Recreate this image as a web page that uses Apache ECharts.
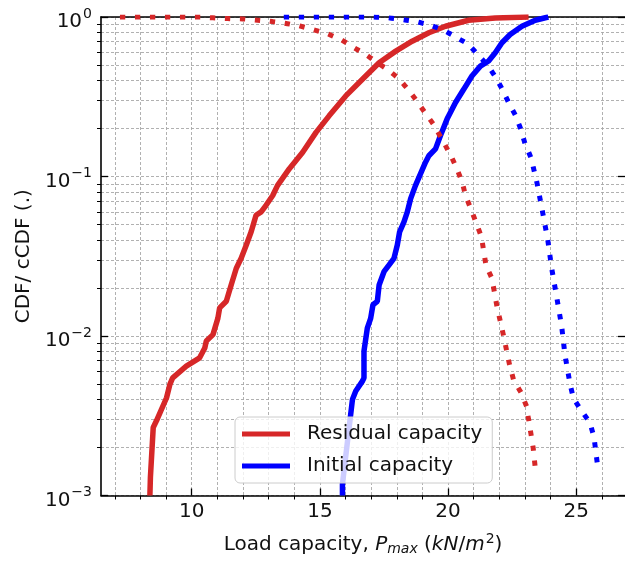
<!DOCTYPE html>
<html>
<head>
<meta charset="utf-8">
<script src="https://cdn.jsdelivr.net/npm/echarts@6/dist/echarts.min.js"></script>
<style>
  html, body { margin: 0; padding: 0; background: #fff; }
  #chart { width: 625px; height: 561px; }
</style>
</head>
<body>
<div id="chart"></div>
<script>
  // residual capacity, CDF (solid red)
  const resCdfX = [8.37, 8.39, 8.50, 8.63, 9.02, 9.15, 9.26, 9.79, 10.31, 10.51, 10.57, 10.83, 11.02, 11.09, 11.35, 11.54, 11.74, 11.93, 12.13, 12.32, 12.51, 12.71, 12.90, 13.16, 13.35, 13.81, 14.33, 14.85, 15.36, 16.01, 16.66, 17.31, 17.96, 18.60, 19.25, 19.90, 20.80, 21.84, 23.14];
  const resCdfY = [0.001, 0.0013, 0.00267, 0.00295, 0.0041, 0.00497, 0.00547, 0.00647, 0.0073, 0.0084, 0.0093, 0.0102, 0.0129, 0.015, 0.0165, 0.0209, 0.0266, 0.0307, 0.0372, 0.045, 0.0571, 0.060, 0.066, 0.076, 0.088, 0.112, 0.142, 0.189, 0.240, 0.320, 0.407, 0.517, 0.611, 0.705, 0.796, 0.875, 0.954, 0.987, 1.0];

  // initial capacity, CDF (solid blue)
  const initCdfX = [15.88, 15.88, 16.27, 16.40, 16.66, 16.72, 16.72, 16.85, 16.98, 17.07, 17.24, 17.31, 17.50, 17.70, 17.89, 18.02, 18.11, 18.28, 18.41, 18.54, 18.73, 19.12, 19.25, 19.51, 19.70, 19.96, 20.29, 20.61, 20.93, 21.26, 21.58, 21.84, 22.10, 22.42, 22.88, 23.40, 23.91];
  const initCdfY = [0.001, 0.00118, 0.0040, 0.00452, 0.00521, 0.00547, 0.00803, 0.0112, 0.0129, 0.0157, 0.0165, 0.0209, 0.0253, 0.0279, 0.0307, 0.0372, 0.045, 0.0519, 0.060, 0.0726, 0.088, 0.123, 0.135, 0.149, 0.180, 0.229, 0.291, 0.352, 0.427, 0.492, 0.530, 0.597, 0.689, 0.777, 0.875, 0.954, 1.0];

  // residual capacity, cCDF (dotted red)
  const resCcdfX = [7.3, 10.31, 10.89, 11.41, 11.99, 12.58, 13.14, 13.70, 14.26, 14.82, 15.34, 15.86, 16.34, 16.79, 17.24, 17.63, 18.08, 18.41, 18.73, 19.05, 19.38, 19.64, 19.90, 20.16, 20.35, 20.55, 20.68, 20.91, 21.30, 21.48, 21.71, 21.91, 22.16, 22.39, 22.55, 22.81, 23.03, 23.14, 23.32, 23.43];
  const resCcdfY = [1.0, 0.999, 0.987, 0.977, 0.973, 0.954, 0.936, 0.910, 0.875, 0.826, 0.780, 0.716, 0.641, 0.582, 0.517, 0.470, 0.411, 0.356, 0.305, 0.258, 0.218, 0.185, 0.156, 0.130, 0.111, 0.0923, 0.076, 0.0614, 0.0419, 0.0276, 0.0230, 0.0152, 0.0101, 0.00669, 0.00533, 0.00452, 0.00373, 0.00301, 0.00198, 0.00134];

  // initial capacity, cCDF (dotted blue)
  const initCcdfX = [13.69, 16.53, 17.11, 17.70, 18.24, 18.80, 19.32, 19.83, 20.29, 20.80, 21.19, 21.55, 21.84, 22.10, 22.36, 22.62, 22.81, 22.98, 23.20, 23.33, 23.46, 23.68, 23.89, 24.04, 24.24, 24.43, 24.56, 24.76, 24.89, 25.21, 25.53, 25.69, 25.83];
  const initCcdfY = [1.0, 1.0, 1.0, 0.987, 0.963, 0.932, 0.888, 0.826, 0.751, 0.673, 0.574, 0.497, 0.423, 0.356, 0.291, 0.243, 0.203, 0.165, 0.135, 0.113, 0.0923, 0.0605, 0.0399, 0.0266, 0.0174, 0.0115, 0.00758, 0.00497, 0.00406, 0.00339, 0.00286, 0.00233, 0.00154];

  const xMajor = [10, 15, 20, 25];
  const xMinor = [7, 8, 9, 11, 12, 13, 14, 16, 17, 18, 19, 21, 22, 23, 24, 26];
  const yMajor = [0.001, 0.01, 0.1, 1];
  const yMinor = [];
  [0.001, 0.01, 0.1].forEach(d => { for (let k = 2; k <= 9; k++) yMinor.push(+(d * k).toPrecision(3)); });

  const FONT = 'DejaVu Sans';
  const INK = '#111';
  const gridLine = { show: true, lineStyle: { color: '#a8a8a8', width: 0.9, type: [3, 2] } };
  const blackLine = { show: true, lineStyle: { color: '#000', width: 1.6 } };
  const dotted = color => ({ width: 5, color: color, type: [0.3, 14.7], cap: 'square' });
  const zip = (xs, ys) => xs.map((x, i) => [x, ys[i]]);

  const chart = echarts.init(document.getElementById('chart'));
  chart.setOption({
    animation: false,
    grid: { left: 101, top: 17, right: -2, bottom: 63 },
    legend: {
      data: ['Residual capacity', 'Initial capacity'],
      orient: 'vertical', left: 235, top: 417,
      icon: 'rect', itemWidth: 48, itemHeight: 5, itemGap: 12,
      padding: [7, 10, 7, 7],
      backgroundColor: 'rgba(255,255,255,0.8)',
      borderColor: '#cccccc', borderWidth: 1, borderRadius: 5,
      textStyle: { fontFamily: FONT, fontSize: 20, color: INK, padding: [0, 0, 0, 12] }
    },
    xAxis: [
      {
        type: 'value', min: 6.463, max: 26.9, position: 'bottom',
        axisLine: blackLine,
        axisTick: { show: true, inside: true, length: 7, customValues: xMajor, lineStyle: { color: '#000', width: 1.3 } },
        axisLabel: { customValues: xMajor, margin: 6, fontFamily: FONT, fontSize: 20, color: INK },
        splitLine: gridLine,
        name: '{n|Load capacity, }{i|P}{sub|max}{n| (}{i|kN}{n|/}{i|m}{sup|2}{n|)}',
        nameLocation: 'middle', nameGap: 37,
        nameTextStyle: {
          fontFamily: FONT, fontSize: 20, color: INK,
          rich: {
            n: { fontFamily: FONT, fontSize: 20, color: INK },
            i: { fontFamily: FONT, fontSize: 20, fontStyle: 'italic', color: INK },
            sub: { fontFamily: FONT, fontSize: 14, fontStyle: 'italic', color: INK, padding: [9, 0, 0, 0] },
            sup: { fontFamily: FONT, fontSize: 14, color: INK, padding: [0, 0, 10, 1] }
          }
        }
      },
      {
        type: 'value', min: 6.463, max: 26.9, position: 'bottom',
        axisLine: { show: false },
        axisTick: { show: true, inside: false, length: 4, customValues: xMinor, lineStyle: { color: '#000', width: 1 } },
        axisLabel: { show: false },
        splitLine: gridLine
      },
      {
        type: 'value', min: 6.463, max: 26.9, position: 'top',
        axisLine: blackLine,
        axisTick: { show: false }, axisLabel: { show: false }, splitLine: { show: false }
      }
    ],
    yAxis: [
      {
        type: 'log', logBase: 10, min: 0.001, max: 1, position: 'left',
        axisLine: blackLine,
        axisTick: { show: true, inside: true, length: 7, customValues: yMajor, lineStyle: { color: '#000', width: 1.3 } },
        axisLabel: {
          customValues: yMajor, margin: 9,
          formatter: v => '{b|10}{s|' + String(Math.round(Math.log10(v))).replace('-', '\u2212') + '}',
          rich: {
            b: { fontFamily: FONT, fontSize: 20, color: INK, padding: [10, 0, 0, 0] },
            s: { fontFamily: FONT, fontSize: 14, color: INK, padding: [0, 0, 6, 1] }
          }
        },
        splitLine: gridLine,
        name: 'CDF/ cCDF (.)', nameLocation: 'middle', nameGap: 66,
        nameTextStyle: { fontFamily: FONT, fontSize: 20, color: INK }
      },
      {
        type: 'log', logBase: 10, min: 0.001, max: 1, position: 'left',
        axisLine: { show: false },
        axisTick: { show: true, inside: false, length: 4, customValues: yMinor, lineStyle: { color: '#000', width: 1 } },
        axisLabel: { show: false },
        splitLine: gridLine
      },
      {
        type: 'log', logBase: 10, min: 0.001, max: 1, position: 'right',
        axisLine: { show: false },
        axisTick: { show: true, inside: true, length: 7, customValues: yMajor, lineStyle: { color: '#000', width: 1.3 } },
        axisLabel: { show: false }, splitLine: { show: false }
      }
    ],
    series: [
      {
        name: 'Residual capacity', type: 'line', data: zip(resCdfX, resCdfY), showSymbol: false,
        color: '#d62728', lineStyle: { width: 5.5, color: '#d62728' }, z: 3
      },
      {
        name: 'Initial capacity', type: 'line', data: zip(initCdfX, initCdfY), showSymbol: false,
        color: '#0000ff', lineStyle: { width: 5.5, color: '#0000ff' }, z: 3
      },
      {
        name: 'res-ccdf', type: 'line', data: zip(resCcdfX, resCcdfY), showSymbol: false,
        lineStyle: dotted('#d62728'), z: 4
      },
      {
        name: 'init-ccdf', type: 'line', data: zip(initCcdfX, initCcdfY), showSymbol: false,
        lineStyle: dotted('#0000ff'), z: 4
      }
    ]
  });
</script>
</body>
</html>
